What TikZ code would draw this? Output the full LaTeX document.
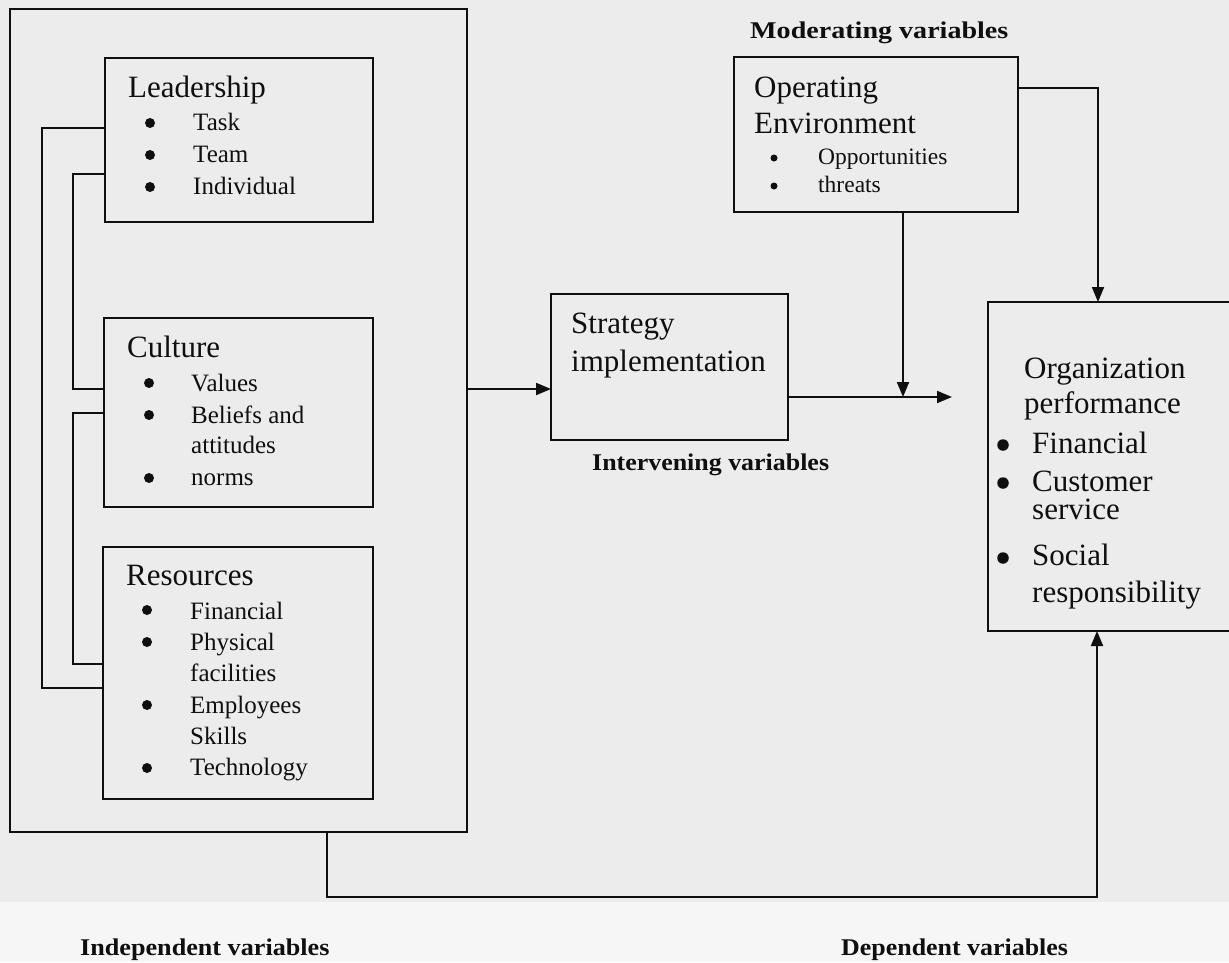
\documentclass[tikz,border=0pt]{standalone}
\usepackage{fontspec}
\setmainfont{Liberation Serif}
\usetikzlibrary{arrows.meta}
\definecolor{bgc}{RGB}{236,236,236}
\definecolor{bgl}{RGB}{246,246,246}
\definecolor{ink}{RGB}{15,15,15}
\begin{document}
\begin{tikzpicture}[x=1pt,y=-1pt,
  box/.style={draw=ink, line width=1.9pt, inner sep=0pt, outer sep=0pt, anchor=north west, rectangle},
  ln/.style={draw=ink, line width=1.9pt},
  arr/.style={ln, -{Triangle[length=15pt,width=12pt]}},
  ttl/.style={anchor=base west, inner sep=0pt, text=ink, font=\fontsize{31}{37}\selectfont},
  itm/.style={anchor=base west, inner sep=0pt, text=ink, font=\fontsize{25}{30}\selectfont},
  sitm/.style={anchor=base west, inner sep=0pt, text=ink, font=\fontsize{23.5}{28}\selectfont},
  dot/.style={circle, fill=ink, inner sep=0pt, outer sep=0pt, minimum size=10pt},
  sdot/.style={dot, minimum size=7pt},
  odot/.style={dot, minimum size=11.5pt},
  lbl/.style={anchor=base west, inner sep=0pt, text=ink, font=\fontsize{24}{28}\selectfont\bfseries}]
\useasboundingbox (0,0) rectangle (1229,962);
\clip (0,0) rectangle (1229,962);
\fill[bgc] (0,0) rectangle (1229,902);
\fill[bgl] (0,902) rectangle (1229,962);

% boxes
\node[box, minimum width=457pt, minimum height=823pt] (indep) at (10,9) {};
\node[box, minimum width=268pt, minimum height=164pt] (lead) at (105,58) {};
\node[box, minimum width=269pt, minimum height=189pt] (cult) at (104,318) {};
\node[box, minimum width=270pt, minimum height=252pt] (res) at (103,547) {};
\node[box, minimum width=237pt, minimum height=146pt] (strat) at (551,294) {};
\node[box, minimum width=284pt, minimum height=155pt] (openv) at (734,57) {};
\node[box, minimum width=262pt, minimum height=329pt] (org) at (988,302) {};

% helper coordinates
\coordinate (l1a) at (42,128);
\coordinate (l1b) at (42,688);
\coordinate (l2a) at (73,174);
\coordinate (l2b) at (73,389);
\coordinate (l3a) at (73,413);
\coordinate (l3b) at (73,664);
\coordinate (ys) at (0,389);
\coordinate (mv) at (903,397);
\coordinate (jn) at (952,397);
\coordinate (tr) at (1098,88);
\coordinate (bl) at (327,897);
\coordinate (br) at (1097,897);

% loops on the left
\draw[ln] (lead.west |- l1a) -- (l1a) -- (l1b) -- (res.west |- l1b);
\draw[ln] (lead.west |- l2a) -- (l2a) -- (l2b) -- (cult.west |- l2b);
\draw[ln] (cult.west |- l3a) -- (l3a) -- (l3b) -- (res.west |- l3b);

% arrows
\draw[arr] (indep.east |- ys) -- (strat.west |- ys);
\draw[arr] (strat.east |- jn) -- (jn);
\draw[arr] (openv.south -| mv) -- (mv);
\draw[arr] (openv.east |- tr) -- (tr) -- (org.north -| tr);
\draw[arr] (indep.south -| bl) -- (bl) -- (br) -- (org.south -| br);

% Leadership
\node[ttl] (leadT) at (128,97) {Leadership};
\node[dot] (lb1) at (150,123) {};
\node[itm] (li1) at (193,130) {Task};
\node[dot] (lb2) at (150,155) {};
\node[itm] (li2) at (193,162) {Team};
\node[dot] (lb3) at (150,187) {};
\node[itm] (li3) at (193,194) {Individual};

% Culture
\node[ttl] (cultT) at (127,357) {Culture};
\node[dot] (cb1) at (149,383) {};
\node[itm] (ci1) at (191,391) {Values};
\node[dot] (cb2) at (149,415) {};
\node[itm] (ci2) at (191,423) {Beliefs and};
\node[itm] (ci3) at (191,453) {attitudes};
\node[dot] (cb3) at (149,478) {};
\node[itm] (ci4) at (191,485) {norms};

% Resources
\node[ttl] (resT) at (126,585) {Resources};
\node[dot] (rb1) at (147,610) {};
\node[itm] (ri1) at (190,619) {Financial};
\node[dot] (rb2) at (147,642) {};
\node[itm] (ri2) at (190,650) {Physical};
\node[itm] (ri3) at (190,681) {facilities};
\node[dot] (rb3) at (147,705) {};
\node[itm] (ri4) at (190,713) {Employees};
\node[itm] (ri5) at (190,744) {Skills};
\node[dot] (rb4) at (147,768) {};
\node[itm] (ri6) at (190,775) {Technology};

% Strategy implementation
\node[ttl] (st1) at (571,333) {Strategy};
\node[ttl] (st2) at (571,371) {implementation};

% Operating environment
\node[ttl] (oe1) at (754,97) {Operating};
\node[ttl] (oe2) at (754,133) {Environment};
\node[sdot] (ob1) at (774,158) {};
\node[sitm] (oi1) at (818,164) {Opportunities};
\node[sdot] (ob2) at (774,186) {};
\node[sitm] (oi2) at (818,192) {threats};

% Organization performance
\node[ttl] (op1) at (1024,378) {Organization};
\node[ttl] (op2) at (1024,413) {performance};
\node[odot] (pb1) at (1003,445) {};
\node[ttl] (pi1) at (1032,453) {Financial};
\node[odot] (pb2) at (1003,483) {};
\node[ttl] (pi2) at (1032,491) {Customer};
\node[ttl] (pi3) at (1032,519) {service};
\node[odot] (pb3) at (1003,558) {};
\node[ttl] (pi4) at (1032,565) {Social};
\node[ttl] (pi5) at (1032,602) {responsibility};

% variable labels
\node[lbl] (modL) at (750,38) {\scalebox{1.17}[1]{Moderating variables}};
\node[lbl] (intL) at (592,470) {\scalebox{1.08}[1]{Intervening variables}};
\node[lbl] (indL) at (80,955) {\scalebox{1.09}[1]{Independent variables}};
\node[lbl] (depL) at (841,955) {\scalebox{1.08}[1]{Dependent variables}};
\end{tikzpicture}
\end{document}
